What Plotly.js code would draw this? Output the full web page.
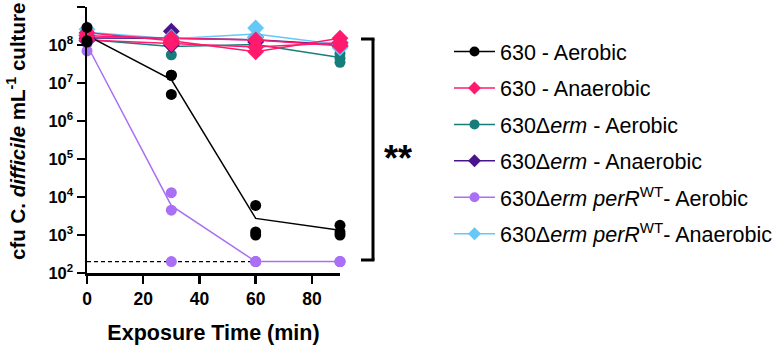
<!DOCTYPE html>
<html>
<head>
<meta charset="utf-8">
<script src="https://cdn.plot.ly/plotly-3.0.1.min.js"></script>
<style>
  html, body { margin: 0; padding: 0; background: #ffffff; }
  #chart { width: 779px; height: 345px; }
</style>
</head>
<body>
<div id="chart"></div>
<script>
// Exposure times (min)
const times = [0, 30, 60, 90];

// Viable counts (cfu/mL), three replicates per time point
const wt630Aerobic = [[2.9e8, 1.3e8, 1.2e8], [1.6e7, 1.6e7, 5.0e6], [6.0e3, 1.2e3, 1.0e3], [1.8e3, 1.2e3, 1.0e3]];
const ermAerobic = [[1.6e8, 1.4e8, 1.2e8], [1.2e8, 1.0e8, 5.5e7], [1.3e8, 1.0e8, 8.0e7], [6.0e7, 4.5e7, 3.5e7]];
const ermAnaerobic = [[1.8e8, 1.5e8, 1.3e8], [2.3e8, 1.2e8, 1.0e8], [1.6e8, 1.3e8, 1.2e8], [1.15e8, 1.0e8, 9.0e7]];
const perRAerobic = [[7.0e7, 1.1e8, 1.2e8], [1.3e4, 4.5e3, 2.0e2], [2.0e2, 2.0e2, 2.0e2], [2.0e2, 2.0e2, 2.0e2]];
const perRAnaerobic = [[2.6e8, 2.0e8, 1.9e8], [1.6e8, 1.5e8, 1.3e8], [2.8e8, 1.6e8, 1.4e8], [1.2e8, 1.0e8, 8.5e7]];
// 630 anaerobic replicates, each followed over time
const wt630AnaerobicRep1 = [2.1e8, 1.3e8, 6.6e7, 1.5e8];
const wt630AnaerobicRep2 = [1.75e8, 1.5e8, 1.35e8, 9.5e7];
const wt630AnaerobicRep3 = [1.35e8, 1.1e8, 8.9e7, 1.15e8];

// Limit of detection
const detectionLimit = 200;
const detectionTimes = [0, 60];

// Legend labels
const seriesNames = [
  '630 - Aerobic',
  '630 - Anaerobic',
  '630\u0394<i>erm</i> - Aerobic',
  '630\u0394<i>erm</i> - Anaerobic',
  '630\u0394<i>erm</i> <i>perR</i><sup>WT</sup>- Aerobic',
  '630\u0394<i>erm</i> <i>perR</i><sup>WT</sup>- Anaerobic'
];

// Axis labels
const yTickVals = [1e2, 1e3, 1e4, 1e5, 1e6, 1e7, 1e8, 1e9];
const yTickText = ['10<sup>2</sup>', '10<sup>3</sup>', '10<sup>4</sup>', '10<sup>5</sup>',
                   '10<sup>6</sup>', '10<sup>7</sup>', '10<sup>8</sup>', '10<sup>9</sup>'];
const xTickVals = [0, 20, 40, 60, 80];
const xTitle = 'Exposure Time (min)';
const yTitle = 'cfu C. <i>difficile</i> mL<sup>-1</sup> culture';
const significance = '**';

const FONT = 'Liberation Sans, Arial, Helvetica, sans-serif';
const COLORS = {
  black: '#000000',
  pink: '#ff1a6e',
  teal: '#177d7a',
  indigo: '#4a148c',
  lilac: '#a96ff4',
  sky: '#62c9f8'
};

const mean = a => a.reduce((s, v) => s + v, 0) / a.length;

function pointsOf(data) {
  const xs = [], ys = [];
  data.forEach((reps, i) => reps.forEach(v => { xs.push(times[i]); ys.push(v); }));
  return { xs, ys };
}

function meanLine(data, color) {
  return {
    x: times, y: data.map(mean), mode: 'lines', type: 'scatter',
    line: { color: color, width: 1.5 }, showlegend: false, hoverinfo: 'skip', cliponaxis: false
  };
}

function repPoints(data, color, symbol, size) {
  const p = pointsOf(data);
  return {
    x: p.xs, y: p.ys, mode: 'markers', type: 'scatter',
    marker: { color: color, symbol: symbol, size: size }, showlegend: false, cliponaxis: false
  };
}

function legendEntry(name, color, symbol, idx) {
  return {
    x: [null], y: [null], mode: 'lines+markers', type: 'scatter', name: name,
    legendgroup: 'g' + idx,
    line: { color: color, width: 1.5 }, marker: { color: color, symbol: symbol, size: 10 }
  };
}

const traces = [
  legendEntry(seriesNames[0], COLORS.black, 'circle', 1),
  legendEntry(seriesNames[1], COLORS.pink, 'diamond', 2),
  legendEntry(seriesNames[2], COLORS.teal, 'circle', 3),
  legendEntry(seriesNames[3], COLORS.indigo, 'diamond', 4),
  legendEntry(seriesNames[4], COLORS.lilac, 'circle', 5),
  legendEntry(seriesNames[5], COLORS.sky, 'diamond', 6),

  // detection limit
  {
    x: detectionTimes, y: detectionTimes.map(() => detectionLimit), mode: 'lines', type: 'scatter',
    line: { color: '#000000', width: 1.2, dash: '4px,3px' }, showlegend: false, hoverinfo: 'skip'
  },

  meanLine(ermAerobic, COLORS.teal),
  meanLine(ermAnaerobic, COLORS.indigo),
  meanLine(perRAnaerobic, COLORS.sky),
  ...[wt630AnaerobicRep1, wt630AnaerobicRep2, wt630AnaerobicRep3].map(r => ({
    x: times, y: r, mode: 'lines', type: 'scatter',
    line: { color: COLORS.pink, width: 1.5 }, showlegend: false, hoverinfo: 'skip', cliponaxis: false
  })),
  meanLine(perRAerobic, COLORS.lilac),
  meanLine(wt630Aerobic, COLORS.black),

  repPoints(ermAerobic, COLORS.teal, 'circle', 11),
  repPoints(ermAnaerobic, COLORS.indigo, 'diamond', 13),
  repPoints(perRAnaerobic, COLORS.sky, 'diamond', 13),
  repPoints(times.map((t, i) => [wt630AnaerobicRep1[i], wt630AnaerobicRep2[i], wt630AnaerobicRep3[i]]),
            COLORS.pink, 'diamond', 13),
  repPoints(perRAerobic, COLORS.lilac, 'circle', 11),
  repPoints(wt630Aerobic, COLORS.black, 'circle', 11)
];

// plot area in pixels: x 87..340, y 7..273
const PL = 87, PR = 340, PT = 7, PB = 273;
const px2x = p => (p - PL) / (PR - PL);
const px2y = p => (PB - p) / (PB - PT);

const layout = {
  width: 779, height: 345,
  margin: { l: PL, r: 779 - PR, t: PT, b: 345 - PB, autoexpand: false },
  paper_bgcolor: '#ffffff', plot_bgcolor: '#ffffff',
  font: { family: FONT, color: '#000000' },
  showlegend: true,
  legend: {
    x: px2x(449), y: px2y(31), xanchor: 'left', yanchor: 'top',
    font: { family: FONT, size: 21.5, color: '#000000' },
    traceorder: 'grouped', tracegroupgap: 5.5,
    itemwidth: 41, bgcolor: 'rgba(0,0,0,0)'
  },
  xaxis: {
    range: [0, 90], tickvals: xTickVals, showgrid: false, zeroline: false,
    showline: true, linecolor: '#000000', linewidth: 2.5,
    ticks: 'outside', ticklen: 8, tickwidth: 2.5, tickcolor: '#000000',
    tickfont: { family: FONT, size: 17.5, weight: 700 },
    title: { text: xTitle, font: { family: FONT, size: 21.5, weight: 700 }, standoff: 19 }
  },
  yaxis: {
    type: 'log', range: [2, 9], tickvals: yTickVals, ticktext: yTickText,
    showgrid: false, zeroline: false,
    showline: true, linecolor: '#000000', linewidth: 2.5,
    ticks: 'outside', ticklen: 8, tickwidth: 2.5, tickcolor: '#000000',
    tickfont: { family: FONT, size: 16.5, weight: 700 }
  },
  shapes: [
    { type: 'line', xref: 'paper', yref: 'paper', x0: px2x(373), x1: px2x(373), y0: px2y(39), y1: px2y(260),
      line: { color: '#000000', width: 3 } },
    { type: 'line', xref: 'paper', yref: 'paper', x0: px2x(361), x1: px2x(374.5), y0: px2y(39), y1: px2y(39),
      line: { color: '#000000', width: 3 } },
    { type: 'line', xref: 'paper', yref: 'paper', x0: px2x(361), x1: px2x(374.5), y0: px2y(260), y1: px2y(260),
      line: { color: '#000000', width: 3 } }
  ],
  annotations: [
    { xref: 'paper', yref: 'paper', x: px2x(16), y: px2y(132), text: yTitle, textangle: -90, showarrow: false,
      font: { family: FONT, size: 20.5, weight: 700, color: '#000000' }, xanchor: 'center', yanchor: 'middle' },
    { xref: 'paper', yref: 'paper', x: px2x(398), y: px2y(158), text: significance, showarrow: false,
      font: { family: FONT, size: 36, weight: 700, color: '#000000' }, xanchor: 'center', yanchor: 'middle' }
  ]
};

Plotly.newPlot('chart', traces, layout, { displayModeBar: false, staticPlot: true });
</script>
</body>
</html>
